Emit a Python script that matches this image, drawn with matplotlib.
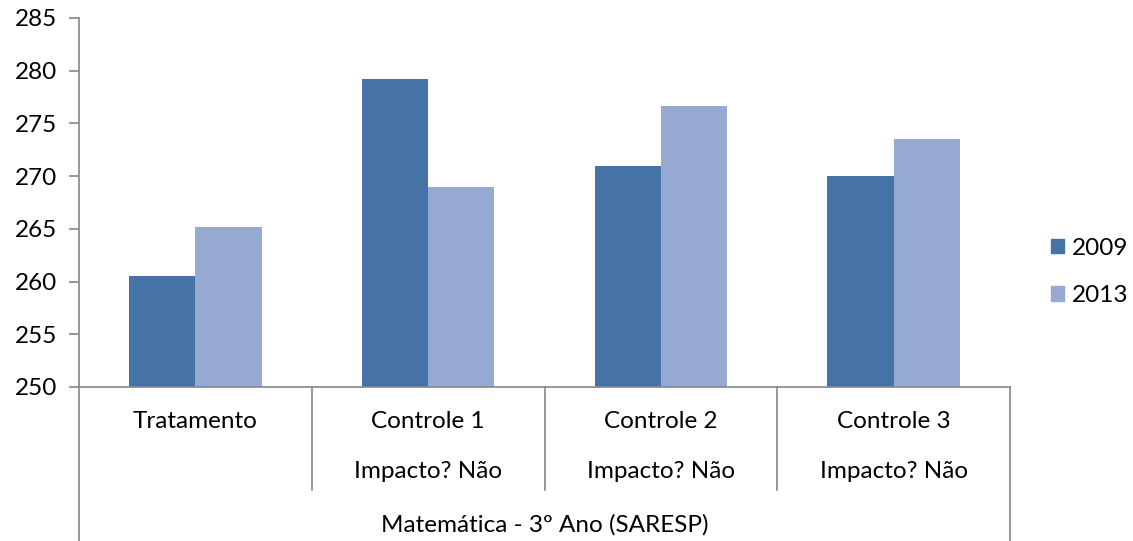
import numpy as np
import matplotlib.pyplot as plt
from matplotlib.patches import Patch
import matplotlib.transforms as mtransforms

plt.rcParams['font.family'] = ['Lato', 'DejaVu Sans']

grupos = ['Tratamento', 'Controle 1', 'Controle 2', 'Controle 3']
impacto = ['', 'Impacto? Não', 'Impacto? Não', 'Impacto? Não']
titulo = 'Matemática - 3º Ano (SARESP)'
v2009 = [260.5, 279.2, 271.0, 270.0]
v2013 = [265.2, 269.0, 276.7, 273.5]

c2009 = '#4573A7'
c2013 = '#95A9D1'
fs = 17.5

fig = plt.figure(figsize=(11.33, 5.41), dpi=100)
ax = fig.add_axes([79/1133, 1-387/541, (1010-79)/1133, (387-18)/541])

x = np.arange(len(grupos))
w = 0.285
ax.bar(x - w/2, v2009, w, color=c2009, label='2009')
ax.bar(x + w/2, v2013, w, color=c2013, label='2013')

ax.set_ylim(250, 285)
ax.set_yticks(np.arange(250, 286, 5))
ax.set_xlim(-0.5, 3.5)
ax.set_xticks([])

for s in ['top', 'right']:
    ax.spines[s].set_visible(False)
for s in ['left', 'bottom']:
    ax.spines[s].set_color('#868686')
    ax.spines[s].set_linewidth(1.2)
ax.tick_params(axis='y', length=7, width=1.2, color='#868686', labelsize=fs, pad=9)

tr = mtransforms.blended_transform_factory(ax.transData, ax.transAxes)
h = (387-18)
def fy(py):
    return -(py - 387) / h

# separators
for xb in [0.5, 1.5, 2.5]:
    ax.plot([xb, xb], [0, fy(490)], color='#868686', lw=1.2, transform=tr, clip_on=False)
for xb in [-0.5, 3.5]:
    ax.plot([xb, xb], [0, fy(545)], color='#868686', lw=1.2, transform=tr, clip_on=False)

for i, g in enumerate(grupos):
    ax.text(i, fy(421), g, transform=tr, ha='center', va='center', fontsize=fs)
    if impacto[i]:
        ax.text(i, fy(472), impacto[i], transform=tr, ha='center', va='center', fontsize=fs)
ax.text(1.5, fy(525), titulo, transform=tr, ha='center', va='center', fontsize=fs)

handles = [Patch(color=c2009, label='2009'), Patch(color=c2013, label='2013')]
fig.legend(handles=handles, loc='center left', bbox_to_anchor=(1051/1133, 1-272/541),
           frameon=False, fontsize=fs, handlelength=0.55, handleheight=0.55,
           handletextpad=0.3, labelspacing=1.1, borderpad=0, borderaxespad=0)

fig.savefig('out.png', dpi=100)
